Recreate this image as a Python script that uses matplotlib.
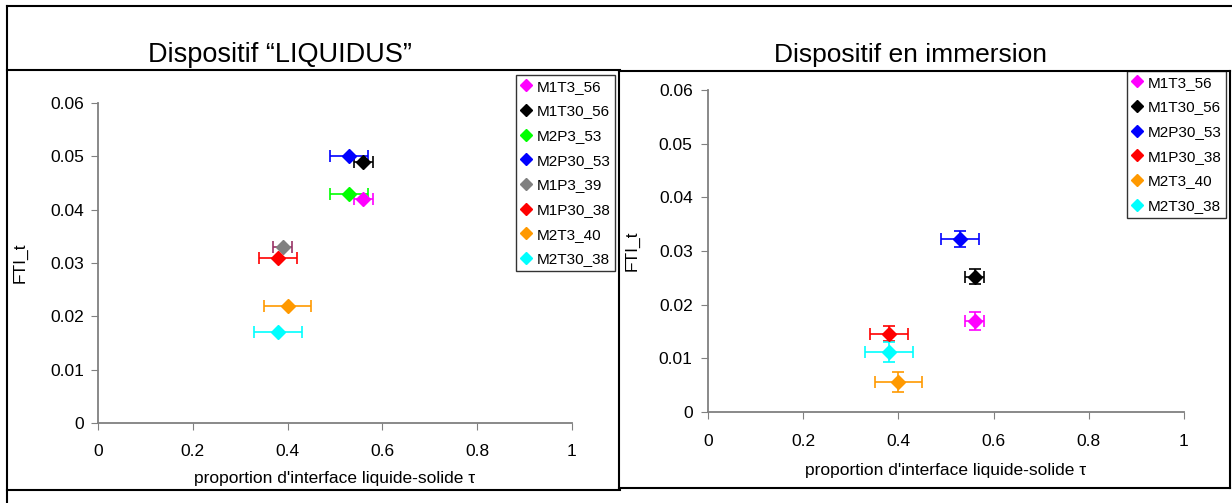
import matplotlib.pyplot as plt
from matplotlib.lines import Line2D
from matplotlib.ticker import FuncFormatter

plt.rcParams['font.family'] = ['Liberation Sans', 'DejaVu Sans']

# ===============================
# data
# ===============================
colors = {
    "M1T3_56": "#FF00FF",
    "M1T30_56": "#000000",
    "M2P3_53": "#00FF00",
    "M2P30_53": "#0000FF",
    "M1P3_39": "#808080",
    "M1P30_38": "#FF0000",
    "M2T3_40": "#FF9900",
    "M2T30_38": "#00FFFF",
}
err_colors = dict(colors)
err_colors["M1P3_39"] = "#993366"

left_labels = ["M1T3_56", "M1T30_56", "M2P3_53", "M2P30_53",
               "M1P3_39", "M1P30_38", "M2T3_40", "M2T30_38"]
left_tau = [0.56, 0.56, 0.53, 0.53, 0.39, 0.38, 0.40, 0.38]
left_tau_err = [0.02, 0.02, 0.04, 0.04, 0.02, 0.04, 0.05, 0.05]
left_fti = [0.042, 0.049, 0.043, 0.050, 0.033, 0.031, 0.022, 0.017]

right_labels = ["M1T3_56", "M1T30_56", "M2P30_53",
                "M1P30_38", "M2T3_40", "M2T30_38"]
right_tau = [0.56, 0.56, 0.53, 0.38, 0.40, 0.38]
right_tau_err = [0.02, 0.02, 0.04, 0.04, 0.05, 0.05]
right_fti = [0.0170, 0.0252, 0.0322, 0.0146, 0.0056, 0.0112]
right_fti_err = [0.0017, 0.0014, 0.0015, 0.0014, 0.0018, 0.0018]

W, H = 1232, 503
fig = plt.figure(figsize=(W / 100, H / 100), dpi=100)


def fx(px):
    return px / W


def fy(py):
    return 1 - py / H


def frame_line(x0, y0, x1, y1):
    fig.add_artist(Line2D([fx(x0), fx(x1)], [fy(y0), fy(y1)],
                          transform=fig.transFigure, color="black", lw=1.5))


# outer frame + panel boxes
frame_line(7, 6, 1232, 6)
frame_line(7, 6, 7, 503)
frame_line(7, 70, 620, 70)
frame_line(7, 490, 620, 490)
frame_line(619, 71, 1230, 71)
frame_line(619, 71, 619, 488)
frame_line(1230, 71, 1230, 488)
frame_line(619, 488, 1230, 488)

ax1 = fig.add_axes([fx(98), fy(423), fx(572) - fx(98), fy(103) - fy(423)])
ax2 = fig.add_axes([fx(708), fy(412), fx(1184) - fx(708), fy(90) - fy(412)])


def draw(ax, labels, tau, tau_err, fti, fti_err=None):
    for i, lab in enumerate(labels):
        yerr = None if fti_err is None else fti_err[i]
        ax.errorbar(tau[i], fti[i], xerr=tau_err[i], yerr=yerr,
                    fmt='D', color=colors[lab], ecolor=err_colors[lab],
                    markersize=7, elinewidth=1.2, capsize=4, capthick=1.2)


draw(ax1, left_labels, left_tau, left_tau_err, left_fti)
draw(ax2, right_labels, right_tau, right_tau_err, right_fti, right_fti_err)

fmt = FuncFormatter(lambda v, p: "%g" % round(v, 4))
for ax, xpad, ypad, xlp, ylp in [(ax1, 10, 5, 9, 16), (ax2, 11, 6, 10, 14)]:
    ax.set_xlim(0, 1)
    ax.set_ylim(0, 0.06)
    ax.set_xticks([0, 0.2, 0.4, 0.6, 0.8, 1])
    ax.set_yticks([0, 0.01, 0.02, 0.03, 0.04, 0.05, 0.06])
    ax.xaxis.set_major_formatter(fmt)
    ax.yaxis.set_major_formatter(fmt)
    for s in ["top", "right"]:
        ax.spines[s].set_visible(False)
    for s in ["left", "bottom"]:
        ax.spines[s].set_color("#808080")
        ax.spines[s].set_linewidth(1.3)
    ax.tick_params(axis='x', direction='out', length=5, color="#808080",
                   labelsize=12.5, pad=xpad)
    ax.tick_params(axis='y', direction='out', length=5, color="#808080",
                   labelsize=12.5, pad=ypad)
    ax.set_xlabel("proportion d'interface liquide-solide τ", fontsize=12.5,
                  labelpad=xlp)
    ax.set_ylabel("FTI_t", fontsize=12.5, labelpad=ylp)

fig.text(fx(280), fy(55), "Dispositif “LIQUIDUS”", fontsize=19.5,
         ha='center', va='center')
fig.text(fx(910), fy(55), "Dispositif en immersion", fontsize=19,
         ha='center', va='center')


def legend(ax, labels, x, y):
    handles = [Line2D([], [], marker='D', ls='none', color=colors[l],
                      markersize=6) for l in labels]
    leg = ax.legend(handles, labels, loc='upper left',
                    bbox_to_anchor=(fx(x), fy(y)), bbox_transform=fig.transFigure,
                    borderaxespad=0, fontsize=11, frameon=True, fancybox=False,
                    edgecolor="black", labelspacing=0.7, handlelength=0.7,
                    handletextpad=0.35, borderpad=0.3)
    leg.get_frame().set_linewidth(1.0)


legend(ax1, left_labels, 516, 75)
legend(ax2, right_labels, 1127, 71)

plt.savefig("out.png", dpi=100)
